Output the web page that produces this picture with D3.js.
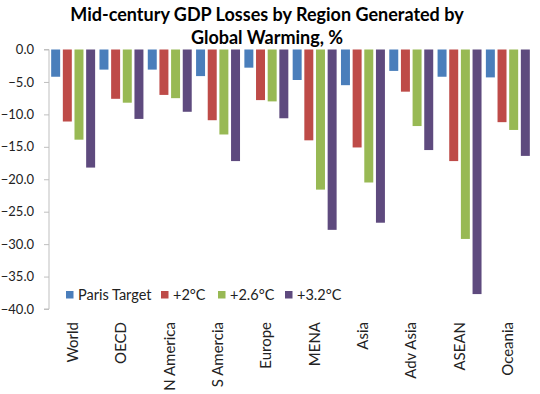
<!DOCTYPE html>
<html lang="en">
<head>
    <meta charset="UTF-8">
    <title>GDP Losses</title>
    <script src="https://cdn.jsdelivr.net/npm/d3@7/dist/d3.min.js"></script>
    <style>
        body { margin: 0; background: #fff; }
        text { font-family: Lato, "Open Sans", sans-serif; }
    </style>
</head>
<body>
<svg></svg>
<script>
    var width = 540;
    var height = 394;

    var regions = ["World", "OECD", "N America", "S Amercia", "Europe", "MENA", "Asia", "Adv Asia", "ASEAN", "Oceania"];
    var seriesNames = ["Paris Target", "+2°C", "+2.6°C", "+3.2°C"];
    var paris = [-4.2, -3.1, -3.1, -4.1, -2.8, -4.7, -5.5, -3.3, -4.2, -4.3];
    var plus20 = [-11.1, -7.6, -7.0, -10.9, -7.8, -14.0, -15.1, -6.5, -17.2, -11.2];
    var plus26 = [-13.9, -8.2, -7.5, -13.1, -8.0, -21.6, -20.5, -11.8, -29.2, -12.4];
    var plus32 = [-18.2, -10.7, -9.6, -17.2, -10.6, -27.8, -26.7, -15.5, -37.7, -16.4];
    var yTicks = [0, -5, -10, -15, -20, -25, -30, -35, -40];
    var colors = ["#4A7EBB", "#BE4B48", "#98B954", "#5E4A7E"];

    var seriesValues = [paris, plus20, plus26, plus32];

    var svg = d3.select("svg")
        .attr("width", width)
        .attr("height", height);

    var plotLeft = 49, plotRight = 532, plotTop = 49.5, plotBottom = 309;

    var x0 = d3.scaleBand()
        .domain(regions)
        .range([plotLeft, plotRight])
        .paddingInner(0.09)
        .paddingOuter(0.045);

    var x1 = d3.scaleBand()
        .domain(d3.range(seriesNames.length))
        .range([0, x0.bandwidth()])
        .paddingInner(0.23);

    var y = d3.scaleLinear()
        .domain([0, -40])
        .range([plotTop, plotBottom]);

    // 标题
    var title = svg.append("text")
        .attr("text-anchor", "middle")
        .style("font-weight", "bold")
        .style("font-size", "18px")
        .style("fill", "#000");
    title.append("tspan").attr("x", 267).attr("y", 21).text("Mid-century GDP Losses by Region Generated by");
    title.append("tspan").attr("x", 267).attr("y", 44).text("Global Warming, %");

    // 柱子
    var groups = svg.selectAll("g.region")
        .data(regions)
        .enter()
        .append("g")
        .attr("class", "region")
        .attr("transform", function(d) { return "translate(" + x0(d) + ",0)"; });

    groups.selectAll("rect")
        .data(function(d, i) {
            return seriesValues.map(function(vals, s) { return { s: s, v: vals[i] }; });
        })
        .enter()
        .append("rect")
        .attr("x", function(d) { return x1(d.s); })
        .attr("width", x1.bandwidth())
        .attr("y", y(0))
        .attr("height", function(d) { return y(d.v) - y(0); })
        .attr("fill", function(d) { return colors[d.s]; });

    // y轴
    var yAxis = d3.axisLeft(y)
        .tickValues(yTicks)
        .tickSize(5)
        .tickFormat(d3.format(".1f"));

    var gy = svg.append("g")
        .attr("transform", "translate(" + plotLeft + ",0)")
        .call(yAxis);
    gy.select(".domain").attr("stroke", "#BFBFBF").attr("d", "M-5," + y(0) + "H0V" + y(-40) + "H-5");
    gy.selectAll(".tick line").attr("stroke", "#BFBFBF");
    gy.selectAll(".tick text")
        .attr("x", -15)
        .style("font-size", "13px")
        .style("fill", "#222")
        .style("font-family", "Lato, 'Open Sans', sans-serif");

    // x轴标签
    svg.selectAll("text.xlabel")
        .data(regions)
        .enter()
        .append("text")
        .attr("class", "xlabel")
        .attr("transform", function(d) {
            return "translate(" + (x0(d) + x0.bandwidth() / 2 + 5) + ",322) rotate(-90)";
        })
        .attr("text-anchor", "end")
        .style("font-size", "15px")
        .style("fill", "#222")
        .text(function(d) { return d; });

    // 图例
    var legendX = [66, 161, 218, 285];
    var legend = svg.selectAll("g.legend")
        .data(seriesNames)
        .enter()
        .append("g")
        .attr("class", "legend")
        .attr("transform", function(d, i) { return "translate(" + legendX[i] + ",291)"; });
    legend.append("rect")
        .attr("width", 7.5)
        .attr("height", 7.5)
        .attr("fill", function(d, i) { return colors[i]; });
    legend.append("text")
        .attr("x", 12)
        .attr("y", 9)
        .style("font-size", "14.5px")
        .style("fill", "#222")
        .text(function(d) { return d; });
</script>
</body>
</html>
